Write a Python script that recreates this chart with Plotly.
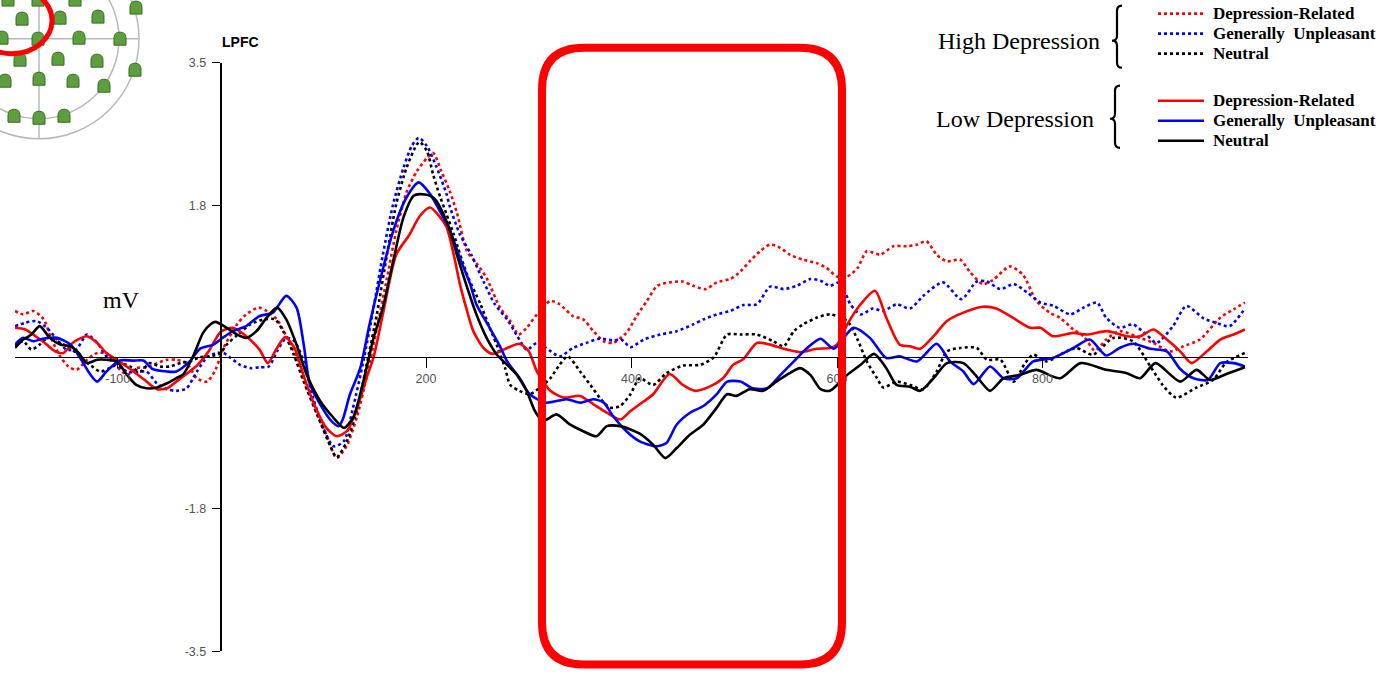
import plotly.graph_objects as go

W, H = 1389, 677

# ERP waveforms at LPFC: (time in ms, amplitude) pairs per group/condition
low_dep_related = [
    (-200, 0.35), (-190, 0.33), (-180, 0.25), (-171, 0.17), (-161, 0.07), (-153, 0.05), (-144, 0.17),
    (-130, 0.25), (-120, 0.17), (-111, 0.05), (-101, -0.03), (-88, -0.14), (-75, -0.26), (-62, -0.38),
    (-52, -0.37), (-43, -0.29), (-30, -0.17), (-23, -0.10), (-11, 0.08), (0, 0.30), (12, 0.35), (25, 0.25),
    (38, 0.09), (46, -0.07), (55, 0.11), (63, 0.24), (72, 0.11), (82, -0.26), (94, -0.64), (103, -0.84),
    (113, -0.94), (123, -0.88), (133, -0.60), (142, -0.25), (149, 0.0), (158, 0.51), (171, 1.22),
    (184, 1.46), (194, 1.68), (204, 1.78), (214, 1.66), (220, 1.55), (227, 1.22), (233, 0.87), (240, 0.55),
    (246, 0.31), (256, 0.11), (265, 0.04), (279, 0.11), (291, 0.16), (300, 0.07), (308, -0.17), (321, -0.40),
    (334, -0.48), (350, -0.46), (363, -0.56), (376, -0.66), (389, -0.74), (399, -0.64), (408, -0.56),
    (421, -0.44), (437, -0.20), (450, -0.33), (462, -0.40), (476, -0.35), (489, -0.25), (499, -0.09),
    (509, -0.02), (522, 0.17), (535, 0.15), (548, 0.10), (564, 0.06), (580, 0.10), (593, 0.11), (600, 0.15),
    (610, 0.39), (623, 0.63), (637, 0.79), (648, 0.47), (661, 0.15), (671, 0.13), (681, 0.10), (694, 0.25),
    (707, 0.43), (723, 0.53), (742, 0.60), (755, 0.58), (771, 0.47), (788, 0.35), (798, 0.35), (810, 0.25),
    (830, 0.29), (843, 0.27), (863, 0.31), (882, 0.25), (895, 0.25), (908, 0.33), (921, 0.21), (934, 0.07),
    (945, -0.07), (960, 0.07), (973, 0.21), (986, 0.27), (997, 0.33),
]
low_gen_unpleasant = [
    (-200, 0.15), (-192, 0.23), (-182, 0.19), (-173, 0.22), (-159, 0.23), (-146, 0.15), (-137, 0.0),
    (-127, -0.20), (-120, -0.29), (-111, -0.17), (-98, -0.04), (-85, -0.04), (-75, -0.04), (-66, -0.14),
    (-52, -0.17), (-43, -0.17), (-30, -0.05), (-20, 0.10), (-7, 0.15), (2, 0.23), (12, 0.31), (25, 0.37),
    (38, 0.49), (51, 0.53), (64, 0.73), (74, 0.59), (81, 0.15), (87, -0.32), (97, -0.56), (108, -0.76),
    (115, -0.82), (119, -0.74), (126, -0.44), (136, -0.13), (145, 0.39), (155, 0.90), (168, 1.50),
    (181, 1.90), (193, 2.08), (204, 1.94), (217, 1.66), (223, 1.52), (233, 1.18), (243, 0.87), (249, 0.63),
    (262, 0.35), (272, 0.13), (279, -0.05), (288, -0.20), (301, -0.44), (317, -0.54), (337, -0.50),
    (350, -0.54), (363, -0.50), (373, -0.54), (382, -0.70), (395, -0.88), (408, -1.00), (424, -1.06),
    (434, -1.02), (444, -0.80), (457, -0.66), (470, -0.58), (483, -0.44), (493, -0.29), (506, -0.29),
    (518, -0.37), (532, -0.37), (545, -0.21), (558, -0.05), (571, 0.11), (584, 0.22), (597, 0.10),
    (616, 0.35), (632, 0.23), (648, -0.01), (661, 0.01), (678, -0.05), (697, 0.16), (710, -0.05),
    (723, -0.17), (733, -0.32), (749, -0.11), (762, -0.25), (775, -0.25), (791, -0.05), (810, -0.01),
    (830, 0.11), (846, 0.21), (862, 0.02), (875, 0.11), (888, 0.16), (905, 0.10), (921, 0.07), (934, -0.14),
    (947, -0.25), (961, -0.27), (973, -0.07), (986, -0.07), (997, -0.11),
]
low_neutral = [
    (-200, 0.11), (-192, 0.21), (-184, 0.27), (-176, 0.37), (-166, 0.23), (-156, 0.15), (-146, 0.13),
    (-138, 0.05), (-130, -0.07), (-120, -0.03), (-111, -0.03), (-101, -0.05), (-91, -0.21), (-82, -0.33),
    (-72, -0.37), (-62, -0.36), (-52, -0.31), (-43, -0.25), (-36, -0.20), (-26, 0.03), (-17, 0.29),
    (-10, 0.39), (-5, 0.42), (6, 0.35), (16, 0.27), (25, 0.23), (35, 0.31), (45, 0.47), (55, 0.59),
    (64, 0.45), (74, 0.15), (84, -0.21), (97, -0.52), (110, -0.72), (120, -0.84), (129, -0.72), (139, -0.29),
    (149, 0.23), (158, 0.59), (168, 1.14), (178, 1.66), (188, 1.92), (194, 1.94), (204, 1.92), (210, 1.86),
    (217, 1.70), (223, 1.52), (230, 1.22), (240, 0.83), (249, 0.51), (259, 0.23), (269, 0.03), (279, -0.09),
    (290, -0.23), (298, -0.40), (306, -0.64), (314, -0.76), (327, -0.68), (340, -0.80), (353, -0.88),
    (366, -0.94), (376, -0.82), (389, -0.82), (399, -0.86), (408, -0.91), (421, -1.04), (433, -1.20),
    (444, -1.08), (457, -0.92), (470, -0.80), (483, -0.60), (493, -0.44), (502, -0.46), (515, -0.38),
    (528, -0.40), (541, -0.29), (554, -0.19), (564, -0.13), (574, -0.21), (584, -0.38), (593, -0.40),
    (610, -0.21), (623, -0.09), (636, 0.04), (648, -0.13), (658, -0.33), (671, -0.35), (681, -0.40),
    (694, -0.25), (707, -0.07), (723, -0.07), (736, -0.23), (749, -0.40), (762, -0.25), (778, -0.21),
    (794, -0.15), (817, -0.25), (837, -0.07), (862, -0.15), (882, -0.19), (895, -0.25), (910, -0.07),
    (934, -0.29), (950, -0.15), (963, -0.27), (979, -0.20), (997, -0.12),
]
high_dep_related = [
    (-200, 0.55), (-192, 0.51), (-182, 0.55), (-172, 0.45), (-165, 0.23), (-156, 0.01), (-148, -0.11),
    (-140, -0.15), (-130, -0.03), (-120, 0.05), (-111, 0.04), (-101, -0.11), (-91, -0.21), (-82, -0.13),
    (-72, -0.12), (-62, -0.07), (-52, -0.03), (-43, -0.03), (-33, -0.07), (-23, -0.25), (-13, -0.29),
    (-5, -0.15), (3, 0.11), (16, 0.39), (25, 0.51), (37, 0.59), (45, 0.55), (55, 0.45), (64, 0.25), (74, 0.0),
    (84, -0.36), (94, -0.68), (103, -0.92), (113, -1.20), (123, -1.05), (133, -0.70), (142, -0.25),
    (152, 0.33), (162, 0.94), (171, 1.50), (181, 1.96), (191, 2.21), (201, 2.37), (207, 2.43), (215, 2.21),
    (223, 1.98), (230, 1.72), (240, 1.26), (249, 1.12), (259, 0.94), (272, 0.59), (282, 0.43), (290, 0.27),
    (298, 0.35), (308, 0.51), (321, 0.67), (330, 0.63), (343, 0.49), (353, 0.45), (363, 0.31), (373, 0.19),
    (382, 0.17), (395, 0.29), (405, 0.49), (415, 0.67), (425, 0.85), (437, 0.89), (450, 0.90), (460, 0.85),
    (472, 0.81), (483, 0.89), (496, 0.93), (506, 1.02), (515, 1.14), (525, 1.26), (535, 1.34), (545, 1.30),
    (554, 1.22), (567, 1.16), (580, 1.12), (590, 1.06), (600, 0.96), (610, 0.96), (620, 1.06), (629, 1.26),
    (642, 1.22), (655, 1.32), (668, 1.32), (678, 1.34), (687, 1.38), (697, 1.22), (707, 1.14), (720, 1.16),
    (729, 1.02), (742, 0.87), (752, 0.92), (768, 1.08), (781, 0.98), (794, 0.67), (807, 0.53), (817, 0.47),
    (830, 0.33), (840, 0.25), (851, 0.08), (862, 0.21), (875, 0.31), (895, 0.23), (908, 0.17), (924, 0.07),
    (937, 0.13), (953, 0.21), (973, 0.47), (986, 0.57), (997, 0.65),
]
high_gen_unpleasant = [
    (-200, 0.37), (-190, 0.41), (-179, 0.43), (-169, 0.35), (-159, 0.21), (-150, 0.09), (-140, 0.10),
    (-130, 0.27), (-120, 0.17), (-111, 0.01), (-101, -0.09), (-91, -0.17), (-82, -0.18), (-72, -0.17),
    (-62, -0.31), (-52, -0.38), (-43, -0.40), (-33, -0.37), (-23, -0.17), (-13, 0.0), (-4, 0.05), (3, 0.05),
    (9, 0.0), (19, -0.09), (29, -0.13), (38, -0.12), (47, -0.11), (55, 0.07), (64, 0.23), (72, 0.19),
    (81, -0.05), (90, -0.48), (100, -0.84), (110, -1.06), (120, -1.00), (129, -0.60), (139, -0.05),
    (149, 0.59), (158, 1.22), (168, 1.82), (178, 2.25), (186, 2.51), (193, 2.61), (201, 2.51), (210, 2.27),
    (220, 1.94), (223, 1.80), (233, 1.46), (244, 1.22), (256, 0.90), (267, 0.63), (279, 0.45), (288, 0.27),
    (298, 0.09), (308, 0.17), (317, 0.11), (330, 0.01), (343, 0.11), (356, 0.17), (369, 0.22), (382, 0.20),
    (390, 0.21), (399, 0.12), (412, 0.21), (428, 0.27), (444, 0.31), (460, 0.39), (470, 0.45), (483, 0.51),
    (496, 0.55), (509, 0.62), (522, 0.63), (535, 0.84), (548, 0.81), (561, 0.85), (574, 0.93), (584, 0.91),
    (593, 0.85), (603, 0.89), (613, 0.63), (623, 0.51), (635, 0.58), (645, 0.55), (658, 0.63), (671, 0.58),
    (684, 0.73), (703, 0.89), (721, 0.69), (736, 0.90), (746, 0.90), (759, 0.81), (772, 0.87), (785, 0.77),
    (798, 0.65), (811, 0.61), (827, 0.51), (840, 0.59), (853, 0.65), (862, 0.47), (875, 0.35), (888, 0.39),
    (901, 0.27), (911, 0.17), (927, 0.37), (940, 0.61), (957, 0.46), (969, 0.41), (982, 0.37), (997, 0.58),
]
high_neutral = [
    (-200, 0.13), (-192, 0.19), (-184, 0.09), (-176, 0.15), (-166, 0.25), (-156, 0.17), (-146, 0.11),
    (-137, 0.01), (-127, -0.09), (-117, -0.17), (-108, -0.13), (-98, -0.07), (-88, -0.11), (-78, -0.17),
    (-69, -0.07), (-59, -0.11), (-49, -0.11), (-39, -0.07), (-30, -0.05), (-20, 0.0), (-10, 0.01), (0, 0.05),
    (6, 0.15), (16, 0.26), (29, 0.39), (42, 0.45), (53, 0.45), (61, 0.31), (71, 0.04), (81, -0.29),
    (94, -0.68), (107, -1.06), (113, -1.19), (123, -1.00), (133, -0.62), (142, -0.10), (152, 0.50),
    (162, 1.22), (171, 1.82), (181, 2.25), (191, 2.53), (194, 2.56), (201, 2.45), (207, 2.17), (214, 1.90),
    (220, 1.70), (227, 1.46), (240, 0.98), (253, 0.63), (262, 0.35), (270, 0.11), (277, -0.13), (282, -0.33),
    (291, -0.40), (301, -0.44), (311, -0.36), (321, -0.25), (330, -0.09), (338, 0.01), (350, -0.17),
    (360, -0.33), (369, -0.48), (379, -0.60), (389, -0.58), (399, -0.44), (408, -0.25), (421, -0.33),
    (434, -0.19), (450, -0.10), (467, -0.09), (480, 0.0), (493, 0.27), (506, 0.27), (522, 0.27), (538, 0.19),
    (548, 0.13), (558, 0.31), (567, 0.39), (580, 0.47), (593, 0.51), (610, 0.43), (620, 0.21), (629, -0.05),
    (639, -0.25), (645, -0.36), (658, -0.29), (671, -0.33), (684, -0.38), (697, -0.17), (707, 0.07),
    (720, 0.11), (736, 0.11), (746, -0.03), (759, -0.03), (772, -0.29), (782, -0.09), (791, 0.03),
    (804, -0.05), (820, 0.05), (833, 0.11), (849, 0.03), (869, 0.23), (888, 0.19), (905, -0.11),
    (917, -0.33), (930, -0.48), (950, -0.36), (966, -0.27), (979, -0.06), (997, 0.05),
]

x_ticks = [-100, 200, 400, 600, 800]
y_ticks = [-3.5, -1.8, 1.8, 3.5]
legend_labels = ["Depression-Related", "Generally  Unpleasant", "Neutral"]
group_labels = ["High Depression", "Low Depression"]
colors = ["#ff0000", "#0000ff", "#000000"]

# electrode sites on the scalp map (pixel centres)
electrodes = [
    (8, -1), (38, -1), (75, -1), (136, 7),
    (22, 18), (60, 17), (98, 16),
    (2, 37), (38, 38), (79, 37), (120, 38),
    (20, 59), (58, 58), (97, 60), (135, 69),
    (5, 80), (39, 78), (73, 80), (104, 85),
    (14, 115), (39, 117), (64, 115),
]

# vertical page calibration (layout pixel -> paper fraction)
Y_OFF, Y_SCALE = 6.4, 0.978


def fx(x):
    return x / W


def fy(y):
    return 1 - ((y - Y_OFF) / Y_SCALE) / H


def pt(x, y):
    return f"{fx(x):.5f},{fy(y):.5f}"


fig = go.Figure()

series = [
    (high_dep_related, colors[0], "dot"),
    (high_gen_unpleasant, colors[1], "dot"),
    (high_neutral, colors[2], "dot"),
    (low_dep_related, colors[0], "solid"),
    (low_gen_unpleasant, colors[1], "solid"),
    (low_neutral, colors[2], "solid"),
]
for data, col, dash in series:
    fig.add_trace(go.Scatter(
        x=[p[0] for p in data], y=[p[1] for p in data], mode="lines",
        line=dict(color=col, width=2.6, dash=dash, shape="spline", smoothing=0.7),
        hoverinfo="skip",
    ))

shapes = []

# scalp map: outer/inner circles and midlines
cx, cy = 39, 38
for r in (100, 80):
    shapes.append(dict(type="circle", xref="paper", yref="paper",
                       x0=fx(cx - r), x1=fx(cx + r), y0=fy(cy + r), y1=fy(cy - r),
                       line=dict(color="#b8b8b8", width=1.5), layer="below"))
shapes.append(dict(type="line", xref="paper", yref="paper", x0=fx(cx), x1=fx(cx),
                   y0=fy(-62), y1=fy(138), line=dict(color="#b8b8b8", width=1.5), layer="below"))
shapes.append(dict(type="line", xref="paper", yref="paper", x0=fx(-61), x1=fx(139),
                   y0=fy(cy), y1=fy(cy), line=dict(color="#b8b8b8", width=1.5), layer="below"))
for ex, ey in electrodes:
    path = (f"M {pt(ex - 6, ey + 6.5)} L {pt(ex - 6, ey - 0.5)} "
            f"Q {pt(ex - 6, ey - 6.5)} {pt(ex, ey - 6.5)} "
            f"Q {pt(ex + 6, ey - 6.5)} {pt(ex + 6, ey - 0.5)} "
            f"L {pt(ex + 6, ey + 6.5)} Z")
    shapes.append(dict(type="path", xref="paper", yref="paper", path=path,
                       fillcolor="#5d9e3f", line=dict(color="#3a6b26", width=1)))
# highlighted site
shapes.append(dict(type="circle", xref="paper", yref="paper",
                   x0=fx(12 - 40), x1=fx(12 + 40), y0=fy(20 + 33), y1=fy(20 - 33),
                   line=dict(color="#ff0000", width=5)))

# time window of interest
L, R, T, B, rc = 542, 842, 47, 663, 42
win = (f"M {pt(L + rc, T)} L {pt(R - rc, T)} Q {pt(R, T)} {pt(R, T + rc)} "
       f"L {pt(R, B - rc)} Q {pt(R, B)} {pt(R - rc, B)} L {pt(L + rc, B)} "
       f"Q {pt(L, B)} {pt(L, B - rc)} L {pt(L, T + rc)} Q {pt(L, T)} {pt(L + rc, T)} Z")
shapes.append(dict(type="path", xref="paper", yref="paper", path=win,
                   line=dict(color="#ff0000", width=8), layer="above"))

# legend braces
for top, mid, bot, bx in ((5, 40, 67, 1117), (85, 118, 147, 1115)):
    brace = (f"M {pt(bx + 5, top)} Q {pt(bx, top)} {pt(bx, top + 5)} L {pt(bx, mid - 5)} "
             f"Q {pt(bx, mid)} {pt(bx - 5, mid)} Q {pt(bx, mid)} {pt(bx, mid + 5)} "
             f"L {pt(bx, bot - 5)} Q {pt(bx, bot)} {pt(bx + 5, bot)}")
    shapes.append(dict(type="path", xref="paper", yref="paper", path=brace,
                       line=dict(color="#000000", width=2.2)))

annotations = []
legend_rows = [(13, 33, 53, "dot"), (100, 120, 140, "solid")]
for (y1, y2, y3, dash), glabel, gy, gx in zip(legend_rows, group_labels, (40, 118), (1102, 1096)):
    for yy, lab, col in zip((y1, y2, y3), legend_labels, colors):
        shapes.append(dict(type="line", xref="paper", yref="paper",
                           x0=fx(1158), x1=fx(1204), y0=fy(yy), y1=fy(yy),
                           line=dict(color=col, width=2.6, dash=dash)))
        annotations.append(dict(x=fx(1211), y=fy(yy), xref="paper", yref="paper",
                                text=f"<b>{lab}</b>", showarrow=False,
                                xanchor="left", yanchor="middle",
                                font=dict(family="Liberation Serif", size=17, color="#000")))
    annotations.append(dict(x=fx(gx), y=fy(gy), xref="paper", yref="paper", text=glabel,
                            showarrow=False, xanchor="right", yanchor="middle",
                            font=dict(family="Liberation Serif", size=24, color="#000")))

annotations.append(dict(x=fx(121), y=fy(299), xref="paper", yref="paper", text="mV",
                        showarrow=False, xanchor="center", yanchor="middle",
                        font=dict(family="Liberation Serif", size=24, color="#000")))
annotations.append(dict(x=fx(220), y=fy(41), xref="paper", yref="paper", text="<b>LPFC</b>",
                        showarrow=False, xanchor="left", yanchor="middle",
                        font=dict(family="Liberation Sans", size=14, color="#000")))

fig.update_layout(
    width=W, height=H,
    margin=dict(l=0, r=0, t=0, b=0),
    paper_bgcolor="white", plot_bgcolor="rgba(0,0,0,0)",
    showlegend=False,
    shapes=shapes, annotations=annotations,
    xaxis=dict(
        domain=[fx(15), fx(1248)], range=[-200, 1000],
        anchor="free", position=fy(356),
        showline=True, linecolor="#000", linewidth=1.2,
        ticks="outside", ticklen=10, tickwidth=1.2, tickcolor="#000",
        tickvals=x_ticks, ticktext=[str(v) for v in x_ticks],
        tickfont=dict(family="Liberation Sans", size=12.5, color="#555"),
        showgrid=False, zeroline=False,
    ),
    yaxis=dict(
        domain=[fy(650), fy(62.3)], range=[-3.5, 3.5],
        anchor="free", position=fx(220.5),
        showline=True, linecolor="#000", linewidth=1.6,
        ticks="outside", ticklen=8, tickwidth=1.2, tickcolor="#000",
        tickvals=y_ticks, ticktext=[str(v) for v in y_ticks],
        ticklabelstandoff=3,
        tickfont=dict(family="Liberation Sans", size=12.5, color="#555"),
        showgrid=False, zeroline=False,
    ),
)

fig.write_html("out.html")
